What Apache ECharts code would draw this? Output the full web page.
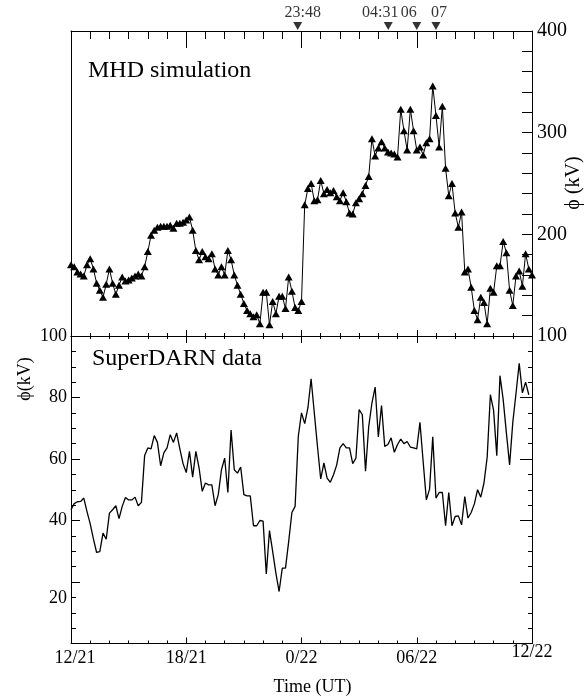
<!DOCTYPE html>
<html><head><meta charset="utf-8">
<script src="https://cdn.jsdelivr.net/npm/echarts@6/dist/echarts.min.js"></script>
<style>html,body{margin:0;padding:0;background:#fff}#c{width:585px;height:697px}</style>
</head><body><div id="c"></div>
<script>
// ---- data ----
const sampleHours = 1 / 6; // 10-minute samples starting 12/21 12:00 UT
const xTickLabels = ['12/21', '18/21', '0/22', '06/22', '12/22'];
const mhdValues = [170,168,163,161,159,170,176,166,152,145,
 138,151,166,152,141,150,158,154,155,157,
 159,161,159,168,183,199,204,207,208,208,
 208,209,206,211,211,212,214,217,204,184,
 175,183,178,176,181,166,160,168,160,184,
 175,160,150,141,132,125,122,119,121,112,
 143,143,111,134,122,139,139,127,158,144,
 128,125,134,229,245,250,233,234,253,240,
 244,241,243,237,233,241,232,221,220,231,
 235,240,248,257,294,277,285,291,285,281,
 280,279,276,323,302,283,323,302,283,286,
 278,290,294,346,317,286,326,265,238,250,
 221,207,222,163,166,148,125,116,138,133,
 112,147,143,169,169,193,182,145,130,159,
 164,149,181,166,160];
const superdarnValues = [43.5,45.5,46.1,46.2,47.3,42.9,38.9,34,29.6,29.9,
 35.9,33.9,42.4,43.5,44.8,40.6,44.6,47.5,46.7,46.7,
 47.6,44.8,45.9,61.1,63.6,63.3,67.6,65.4,57.8,62,
 63.6,67.9,65.4,68.5,63.3,58.5,55.6,62.5,54.1,62.5,
 57.1,49.5,52.2,51.6,51.6,44.8,48.4,56.5,60.3,49.1,
 69.4,56.5,55.4,57.4,48.4,48,48,38.3,38.3,40,
 39.8,22.6,36.7,29.9,22.9,16.9,24.5,24.5,33.2,42.6,
 44.6,67.4,75,71.5,76.6,86.1,75,64,53.5,58.7,
 53.8,52.4,54.9,58.1,63.6,65,63.6,63.6,58.5,60.3,
 76.1,74.4,56,70.6,78.2,83.4,67.2,77.4,64.1,64.7,
 66.9,62.2,64.7,66.5,65,65.7,63.9,63.6,63.3,71.9,
 59.2,46.7,50.2,67.2,47.3,49.1,49.1,38.3,49.1,38.3,
 41.3,41.5,38.6,47.8,40.8,42.6,45.4,50,47.6,52.2,
 60.6,80.9,75.8,61.1,87.1,79.3,68.5,58.1,71.9,81.3,
 91.1,81.5,85,80.9];
const eventHours = [11.8, 16.517, 18, 19];
const eventLabels = ['23:48', '04:31', '06', '07'];

// ---- styling ----
const FONT = "'Liberation Serif','Times New Roman',serif";
const eventLabelShift = [5, -8, -8, 3];
const black = '#000';

function xAx(gridIndex, position, major, minor, extra) {
  return Object.assign({
    type: 'value', gridIndex, position, min: 0, max: 24, interval: 6,
    axisLine: { show: true, onZero: false, lineStyle: { color: black, width: 1 } },
    axisTick: { show: true, inside: true, length: major, lineStyle: { color: black } },
    minorTick: { show: true, splitNumber: 6, length: minor, lineStyle: { color: black } },
    splitLine: { show: false }, minorSplitLine: { show: false },
    axisLabel: { show: false }
  }, extra || {});
}
function yAx(gridIndex, position, min, max, interval, split, major, minor, extra) {
  return Object.assign({
    type: 'value', gridIndex, position, min, max, interval,
    axisLine: { show: true, onZero: false, lineStyle: { color: black, width: 1 } },
    axisTick: { show: major > 0, inside: true, length: major, lineStyle: { color: black } },
    minorTick: { show: minor > 0, splitNumber: split, length: minor, lineStyle: { color: black } },
    splitLine: { show: false }, minorSplitLine: { show: false },
    axisLabel: { show: false }
  }, extra || {});
}

const chart = echarts.init(document.getElementById('c'), null, { renderer: 'canvas' });
const option = {
  animation: false,
  backgroundColor: '#fff',
  textStyle: { fontFamily: FONT, color: black },
  grid: [
    { left: 71, right: 53, top: 31, height: 305, outerBoundsMode: 'none', containLabel: false },
    { left: 71, right: 53, top: 336, height: 307.5, outerBoundsMode: 'none', containLabel: false },
    { left: 71, right: 53, top: 0, height: 26, outerBoundsMode: 'none', containLabel: false }
  ],
  xAxis: [
    xAx(0, 'bottom', 6, 3),
    xAx(0, 'top', 17, 8),
    xAx(1, 'top', 7, 3),
    xAx(1, 'bottom', 6, 3, {
      axisLabel: {
        show: true, margin: 0, fontSize: 18, color: black, fontFamily: FONT,
        formatter: v => {
          const i = Math.round(v / 6);
          const t = xTickLabels[i];
          if (i === 0) return '{f|' + t + '}';
          if (i === xTickLabels.length - 1) return '{n|' + t + '}';
          return '{d|' + t + '}';
        },
        rich: {
          f: { fontSize: 18, fontFamily: FONT, color: black, padding: [6, 0, 0, 8] },
          d: { fontSize: 18, fontFamily: FONT, color: black, padding: [6, 0, 0, 0] },
          n: { fontSize: 18, fontFamily: FONT, color: black }
        }
      },
      name: 'Time (UT)', nameLocation: 'middle', nameGap: 35,
      nameTextStyle: { fontSize: 18, fontFamily: FONT, color: black, padding: [0, 0, 0, 22] }
    }),
    { type: 'value', gridIndex: 2, min: 0, max: 24, show: false }
  ],
  yAxis: [
    yAx(0, 'right', 100, 400, 100, 5, 10, 10, {
      axisLabel: { show: true, margin: 5, fontSize: 20, color: black, fontFamily: FONT }
    }),
    yAx(0, 'left', 100, 400, 100, 5, 0, 0),
    yAx(1, 'left', 0, 100, 20, 4, 9, 5, {
      axisLabel: {
        show: true, margin: 4, fontSize: 18, color: black, fontFamily: FONT,
        formatter: v => v === 0 ? '' : (v === 20 ? '{low|20}' : String(v)),
        rich: { low: { fontSize: 18, fontFamily: FONT, color: black, padding: [32, 0, 0, 0] } }
      }
    }),
    yAx(1, 'right', 0, 100, 20, 4, 12, 4),
    { type: 'value', gridIndex: 2, min: 0, max: 1, show: false }
  ],
  graphic: [
    { type: 'text', left: 88, top: 59, style: { text: 'MHD simulation', font: '24px ' + FONT, fill: black } },
    { type: 'text', left: 92, top: 347, style: { text: 'SuperDARN data', font: '24px ' + FONT, fill: black } },
    { type: 'text', x: 25, y: 379, rotation: Math.PI / 2,
      style: { text: 'ϕ(kV)', font: '18px ' + FONT, fill: black, align: 'center', verticalAlign: 'middle' } },
    { type: 'text', x: 574, y: 183, rotation: Math.PI / 2,
      style: { text: 'ϕ (kV)', font: '20px ' + FONT, fill: black, align: 'center', verticalAlign: 'middle' } }
  ],
  series: [
    {
      type: 'line', xAxisIndex: 0, yAxisIndex: 0,
      data: mhdValues.map((v, i) => [i * sampleHours, v]),
      symbol: 'triangle', symbolSize: [8, 7], showSymbol: true, showAllSymbol: true,
      itemStyle: { color: black }, lineStyle: { color: black, width: 1 }
    },
    {
      type: 'line', xAxisIndex: 3, yAxisIndex: 2,
      data: superdarnValues.map((v, i) => [i * sampleHours, v]),
      symbol: 'none', lineStyle: { color: black, width: 1.3 }
    },
    {
      type: 'scatter', xAxisIndex: 4, yAxisIndex: 4, clip: false,
      symbol: 'path://M0,0L10,0L5,9Z', symbolSize: [9, 8],
      itemStyle: { color: black },
      label: { show: true, position: 'top', distance: 1, fontSize: 16, fontFamily: FONT, color: black,
        formatter: p => eventLabels[p.dataIndex] },
      data: eventHours.map((h, i) => ({ value: [h, 0], label: { offset: [eventLabelShift[i], 0] } }))
    }
  ]
};
chart.setOption(option);
</script>
</body></html>
